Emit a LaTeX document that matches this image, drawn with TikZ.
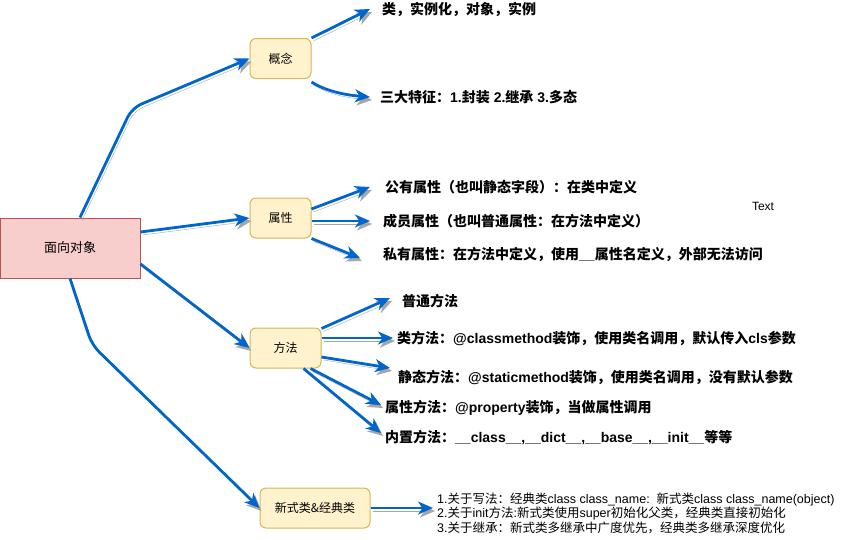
\documentclass[tikz,border=0pt]{standalone}
\usepackage{fontspec}
\setmainfont{Noto Sans CJK SC}
\newfontfamily\en{Liberation Sans}
\usetikzlibrary{arrows.meta}
\definecolor{arrblue}{HTML}{0066CC}
\definecolor{shadowgray}{HTML}{A6A6A6}
\definecolor{redfill}{HTML}{F8CECC}
\definecolor{reddraw}{HTML}{B85450}
\definecolor{yellowfill}{HTML}{FFF2CC}
\definecolor{yellowdraw}{HTML}{D6B656}
\tikzset{
  arr/.style={draw=arrblue,line width=2.8pt,-{Stealth[length=15pt,width=13pt,inset=4.5pt]},
    preaction={draw=shadowgray,transform canvas={shift={(2pt,-3pt)}}}},
  topic/.style={draw=yellowdraw,fill=yellowfill,rounded corners=6pt,line width=1pt,
    minimum height=40pt,font=\fontsize{12}{14}\selectfont},
  leaf/.style={anchor=west,inner sep=0pt,font=\bfseries\fontsize{14}{16}\selectfont}
}
\begin{document}
\begin{tikzpicture}[x=1pt,y=-1pt]
    \useasboundingbox (0,0) rectangle (856,539);

    % nodi
    \node[draw=reddraw,fill=redfill,line width=1pt,minimum width=140pt,minimum height=60pt,
      font=\fontsize{13}{15}\selectfont] (oop) at (70,248) {面向对象};
    \node[topic,minimum width=61pt] (gn) at (280.5,58.5) {概念};
    \node[topic,minimum width=61pt] (sx) at (280.5,218) {属性};
    \node[topic,minimum width=71pt] (ff) at (285.5,348) {方法};
    \node[topic,minimum width=110pt] (xs) at (315,508) {新式类\&经典类};

    % testi
    \node[leaf] (t1) at (382,9) {类，实例化，对象，实例};
    \node[leaf] (t2) at (380,97) {三大特征：{\en 1.}封装{\en\ 2.}继承{\en\ 3.}多态};
    \node[leaf] (p1) at (385,187) {公有属性（也叫静态字段）：在类中定义};
    \node[leaf] (p2) at (383,221) {成员属性（也叫普通属性：在方法中定义）};
    \node[leaf] (p3) at (383,254) {私有属性：在方法中定义，使用{\en\_\_}属性名定义，外部无法访问};
    \node[font=\en\fontsize{12}{14}\selectfont] (txt) at (763,206) {Text};
    \node[leaf] (m1) at (402,301) {普通方法};
    \node[leaf] (m2) at (397,338) {类方法：{\en @classmethod}装饰，使用类名调用，默认传入{\en cls}参数};
    \node[leaf] (m3) at (398,377) {静态方法：{\en @staticmethod}装饰，使用类名调用，没有默认参数};
    \node[leaf] (m4) at (385,408) {属性方法：{\en @property}装饰，当做属性调用};
    \node[leaf] (m5) at (385,437) {内置方法：{\en\_\_class\_\_,\_\_dict\_\_,\_\_base\_\_,\_\_init\_\_}等等};
    \node[anchor=west,align=left,inner sep=0pt,font=\fontsize{12.5}{14.5}\selectfont] (cmp) at (437,513)
      {{\en 1.}关于写法：经典类{\en class class\_name:\ \ }新式类{\en class class\_name(object)}\\
       {\en 2.}关于{\en init}方法{\en :}新式类使用{\en super}初始化父类，经典类直接初始化\\
       {\en 3.}关于继承：新式类多继承中广度优先，经典类多继承深度优化};

    % archi principali
    \coordinate (k1) at (132,108);
    \coordinate (k2) at (92,345);
    \draw[arr,rounded corners=10pt] ([xshift=10pt]oop.north) -- (k1) -- (gn.west);
    \draw[arr] ([yshift=16pt]oop.east) -- (sx.west);
    \draw[arr] ([yshift=-16pt]oop.east) -- (ff.west);
    \draw[arr,rounded corners=10pt] (oop.south) -- (k2) -- (xs.west);

    % archi secondari
    \draw[arr] (gn.north east) -- ([xshift=-12pt]t1.west);
    \draw[arr] ([yshift=-3pt]gn.south east) .. controls +(14,9) and +(-25,-2) .. ([xshift=-10pt]t2.west);
    \draw[arr] ([yshift=9pt]sx.east) -- ([xshift=-15pt]p1.west);
    \draw[arr] (sx.east |- p2.west) -- ([xshift=-13pt]p2.west);
    \draw[arr] (sx.south east) -- ([xshift=-23pt,yshift=-4pt]p3.west);
    \draw[arr] ([yshift=-1pt]ff.north east) -- ([xshift=-12pt,yshift=3pt]m1.west);
    \draw[arr] (ff.east |- m2.west) -- ([xshift=-4pt]m2.west);
    \draw[arr] ([yshift=-9pt]ff.east) -- ([xshift=-8pt,yshift=9pt]m3.west);
    \draw[arr] ([xshift=-11pt]ff.south east) -- ([xshift=-4pt,yshift=3pt]m4.west);
    \draw[arr] ([xshift=-18pt]ff.south east) -- ([xshift=-4pt,yshift=4pt]m5.west);
    \draw[arr] (xs.east) -- ([xshift=-4pt,yshift=5pt]cmp.west);
\end{tikzpicture}
\end{document}
